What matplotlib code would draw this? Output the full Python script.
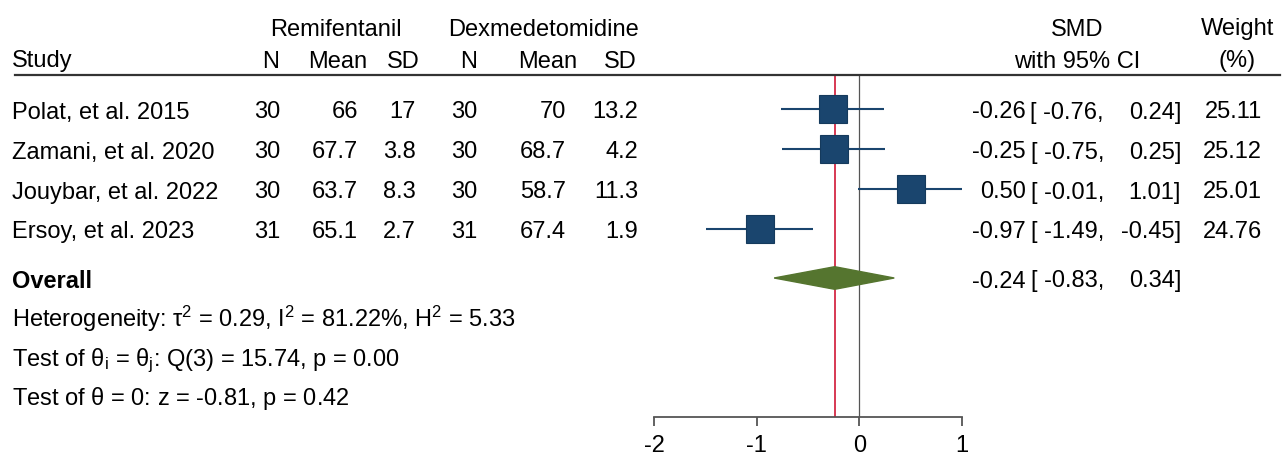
import numpy as np
import matplotlib
matplotlib.use('Agg')
import matplotlib.pyplot as plt
import matplotlib.transforms as mtransforms
from matplotlib.lines import Line2D

# ==========================================
# Fonts
# ==========================================
plt.rcParams['font.family'] = ['Liberation Sans', 'DejaVu Sans']
plt.rcParams['mathtext.fontset'] = 'custom'
plt.rcParams['mathtext.rm'] = 'Liberation Sans'
plt.rcParams['mathtext.it'] = 'Liberation Sans:italic'
plt.rcParams['mathtext.bf'] = 'Liberation Sans:bold'

# ==========================================
# Data
# ==========================================
studies = ['Polat, et al. 2015', 'Zamani, et al. 2020', 'Jouybar, et al. 2022', 'Ersoy, et al. 2023']
remi_n = [30, 30, 30, 31]
remi_mean = ['66', '67.7', '63.7', '65.1']
remi_sd = ['17', '3.8', '8.3', '2.7']
dex_n = [30, 30, 30, 31]
dex_mean = ['70', '68.7', '58.7', '67.4']
dex_sd = ['13.2', '4.2', '11.3', '1.9']
smd = [-0.26, -0.25, 0.50, -0.97]
ci_lo = [-0.76, -0.75, -0.01, -1.49]
ci_hi = [0.24, 0.25, 1.01, -0.45]
weights = [25.11, 25.12, 25.01, 24.76]

overall_smd = -0.24
overall_lo = -0.83
overall_hi = 0.34

het_text = r'Heterogeneity: $\mathregular{\tau^2}$ = 0.29, $\mathregular{I^2}$ = 81.22%, $\mathregular{H^2}$ = 5.33'
q_text = r'Test of $\mathregular{\theta_i}$ = $\mathregular{\theta_j}$: Q(3) = 15.74, p = 0.00'
z_text = r'Test of $\mathregular{\theta}$ = 0: z = -0.81, p = 0.42'

xticks = [-2, -1, 0, 1]

# ==========================================
# Layout (pixel based, 1288 x 456)
# ==========================================
W, H = 1288, 456
FS = 17
NAVY = '#1a456e'
GREEN = '#55752f'
RED = '#d42a45'
GREY = '#555555'


def fx(px):
    return px / W


def ry(px):
    # pixel row centre -> row units (study rows at 0..3)
    return (px - 110) / 40.0


BASE = 8.5 / 40.0  # baseline offset from cap centre

fig = plt.figure(figsize=(W / 100, H / 100), dpi=100)
ax = fig.add_axes([fx(654), 1 - 418 / H, fx(962 - 654), (418 - 76) / H])
ax.set_xlim(-2, 1)
ax.set_ylim(ry(418), ry(76))

trans = mtransforms.blended_transform_factory(fig.transFigure, ax.transData)


def put(px, row_px, s, ha='right', **kw):
    fig.text(fx(px), ry(row_px) + BASE, s, ha=ha, va='baseline', fontsize=FS,
             transform=trans, **kw)


# Headers
put(336, 27, 'Remifentanil', ha='center')
put(543, 27, 'Dexmedetomidine', ha='center')
put(1077, 27, 'SMD', ha='center')
put(1238, 27, 'Weight', ha='center')
put(12, 59, 'Study', ha='left')
put(279, 59, 'N')
put(367, 59, 'Mean')
put(420, 59, 'SD')
put(477, 59, 'N')
put(577, 59, 'Mean')
put(637, 59, 'SD')
put(1077, 59, 'with 95% CI', ha='center')
put(1237, 59, '(%)', ha='center')

fig.add_artist(Line2D([fx(15), fx(1280)], [ry(76), ry(76)], transform=trans,
                      color='#333333', linewidth=1.6, clip_on=False))

# Study rows
rows = np.arange(len(studies))
for i, r in enumerate(rows):
    rp = 110 + 40 * r
    put(12, rp, studies[i], ha='left')
    put(280, rp, str(remi_n[i]))
    put(358, rp, remi_mean[i])
    put(416, rp, remi_sd[i])
    put(477, rp, str(dex_n[i]))
    put(566, rp, dex_mean[i])
    put(638, rp, dex_sd[i])
    put(1026, rp, f'{smd[i]:.2f}')
    put(1104, rp, f'[ {ci_lo[i]:.2f},')
    put(1181, rp, f'{ci_hi[i]:.2f}]')
    put(1262, rp, f'{weights[i]:.2f}')

# Overall and tests
ov_px = 279
put(12, ov_px, 'Overall', ha='left', fontweight='bold')
put(1026, ov_px, f'{overall_smd:.2f}')
put(1104, ov_px, f'[ {overall_lo:.2f},')
put(1181, ov_px, f'{overall_hi:.2f}]')
put(12, 318, het_text, ha='left')
put(12, 358, q_text, ha='left')
put(12, 397, z_text, ha='left')

# Forest marks
ax.axvline(0, color=GREY, linewidth=0.9, zorder=1)
ax.axvline(overall_smd, color=RED, linewidth=1.3, zorder=1)
ax.hlines(rows, ci_lo, ci_hi, color=NAVY, linewidth=1.5, zorder=2)
for r, e, w in zip(rows, smd, weights):
    ax.plot(e, r, marker='s', markersize=19.8 * np.sqrt(w / 25.11),
            color=NAVY, markeredgecolor='#153a5c', markeredgewidth=0.8, zorder=3)

ov_row = ry(ov_px)
dh = 11.3 / 40.0
ax.fill([overall_lo, overall_smd, overall_hi, overall_smd],
        [ov_row, ov_row - dh, ov_row, ov_row + dh],
        color=GREEN, edgecolor=GREEN, zorder=3)

# Axis styling
for s in ['top', 'right', 'left']:
    ax.spines[s].set_visible(False)
ax.spines['bottom'].set_color(GREY)
ax.spines['bottom'].set_linewidth(1.3)
ax.set_yticks([])
ax.set_xticks(xticks)
ax.set_xticklabels([str(t) for t in xticks])
ax.tick_params(axis='x', direction='out', length=6.5, width=1.3, color=GREY,
               labelsize=FS, pad=6)
ax.patch.set_visible(False)

fig.savefig('out.png', dpi=100)
